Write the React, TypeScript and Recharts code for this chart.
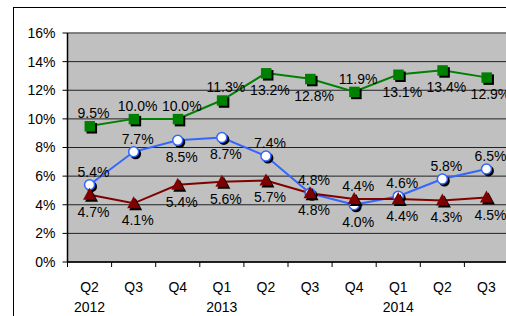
import React from 'react'
import {
  LineChart, Line, XAxis, YAxis, CartesianGrid, LabelList, ReferenceLine,
} from 'recharts'

// quarters and the year under the first quarter of each year
const quarters = ['Q2', 'Q3', 'Q4', 'Q1', 'Q2', 'Q3', 'Q4', 'Q1', 'Q2', 'Q3']
const years = ['2012', '', '', '2013', '', '', '', '2014', '', '']

const greenValues = [9.5, 10.0, 10.0, 11.3, 13.2, 12.8, 11.9, 13.1, 13.4, 12.9]
const blueValues = [5.4, 7.7, 8.5, 8.7, 7.4, 4.8, 4.0, 4.6, 5.8, 6.5]
const redValues = [4.7, 4.1, 5.4, 5.6, 5.7, 4.8, 4.4, 4.4, 4.3, 4.5]

const yTicks = [0, 2, 4, 6, 8, 10, 12, 14, 16]

// label placement (true = below the marker)
const greenBelow = [false, false, false, false, true, true, false, true, true, true]
const blueBelow = [false, false, true, true, false, false, true, false, false, false]
const redBelow = [true, true, true, true, true, true, false, true, true, true]

const data = quarters.map((q, i) => ({
  key: `${q}-${i}`,
  quarter: q,
  year: years[i],
  green: greenValues[i],
  blue: blueValues[i],
  red: redValues[i],
}))

const FONT = '"Liberation Sans", Arial, sans-serif'
const CHART_W = 520
const MARGIN = { top: 33, right: 11.5, left: 0, bottom: 0 }
const Y_W = 67.5
const BAND = (CHART_W - MARGIN.right - MARGIN.left - Y_W) / quarters.length

const GREEN = '#008000'
const BLUE = '#3366ff'
const RED = '#800000'

const SquareDot = (props: any) => {
  const { cx, cy } = props
  if (cx == null || cy == null) return null
  return (
    <g>
      <rect x={cx - 5 + 2} y={cy - 5 + 2} width={10.5} height={10.5} fill="#000" />
      <rect x={cx - 5} y={cy - 5} width={10.5} height={10.5} fill={GREEN} />
    </g>
  )
}

const CircleDot = (props: any) => {
  const { cx, cy } = props
  if (cx == null || cy == null) return null
  return (
    <g>
      <circle cx={cx + 2} cy={cy + 2} r={5.5} fill="#000" />
      <circle cx={cx} cy={cy} r={5} fill="#fff" stroke={BLUE} strokeWidth={1.5} />
    </g>
  )
}

const TriangleDot = (props: any) => {
  const { cx, cy } = props
  if (cx == null || cy == null) return null
  const tri = (dx: number, dy: number) =>
    `${cx + dx},${cy - 7 + dy} ${cx + 6.5 + dx},${cy + 5 + dy} ${cx - 6.5 + dx},${cy + 5 + dy}`
  return (
    <g>
      <polygon points={tri(2, 2)} fill="#000" />
      <polygon points={tri(0, 0)} fill={RED} />
    </g>
  )
}

const makeLabel = (below: boolean[]) => (props: any) => {
  const { x, y, value, index } = props
  const dy = below[index] ? 22 : -8
  return (
    <text x={x + 4} y={y + dy} textAnchor="middle" fontSize={14} fontFamily={FONT} fill="#000">
      {`${Number(value).toFixed(1)}%`}
    </text>
  )
}

const QuarterTick = (props: any) => {
  const { x, y, payload, index } = props
  const row = data[index] || { quarter: payload.value, year: '' }
  return (
    <g>
      <line x1={x + BAND / 2} y1={y} x2={x + BAND / 2} y2={y + 5} stroke="#000" />
      {index === 0 && <line x1={x - BAND / 2} y1={y} x2={x - BAND / 2} y2={y + 5} stroke="#000" />}
      <text x={x} y={y + 30} textAnchor="middle" fontSize={14} fontFamily={FONT} fill="#000">
        {row.quarter}
      </text>
      {row.year && (
        <text x={x} y={y + 50} textAnchor="middle" fontSize={14} fontFamily={FONT} fill="#000">
          {row.year}
        </text>
      )}
    </g>
  )
}

export default function App() {
  return (
    <div style={{ position: 'absolute', left: 0, top: 0, width: 506, height: 316, overflow: 'hidden', background: '#fff' }}>
      {/* outer chart border, cut off at right and bottom */}
      <div style={{ position: 'absolute', left: 13, top: 7, width: 600, height: 400, borderLeft: '1.5px solid #000', borderTop: '1.5px solid #000' }} />
      <div style={{ position: 'absolute', left: 0, top: 0 }}>
        <LineChart width={CHART_W} height={316} data={data} margin={MARGIN}>
          <CartesianGrid vertical={false} fill="#c0c0c0" stroke="#222" strokeWidth={1} />
          <ReferenceLine y={16} stroke="#808080" strokeWidth={1.5} />
          <XAxis
            dataKey="key"
            scale="band"
            height={54}
            axisLine={{ stroke: '#000', strokeWidth: 1.5 }}
            tickLine={false}
            tickSize={0}
            tickMargin={0}
            interval={0}
            tick={<QuarterTick />}
          />
          <YAxis
            width={Y_W}
            domain={[0, 16]}
            ticks={yTicks}
            interval={0}
            tickFormatter={(v: number) => `${v}%`}
            tick={{ fontSize: 14, fontFamily: FONT, fill: '#000' }}
            tickSize={5}
            tickMargin={7}
            axisLine={{ stroke: '#000', strokeWidth: 1.5 }}
            tickLine={{ stroke: '#000' }}
          />
          <Line dataKey="green" stroke={GREEN} strokeWidth={2} dot={<SquareDot />} activeDot={false} isAnimationActive={false}>
            <LabelList dataKey="green" content={makeLabel(greenBelow)} />
          </Line>
          <Line dataKey="blue" stroke={BLUE} strokeWidth={2} dot={<CircleDot />} activeDot={false} isAnimationActive={false}>
            <LabelList dataKey="blue" content={makeLabel(blueBelow)} />
          </Line>
          <Line dataKey="red" stroke={RED} strokeWidth={2} dot={<TriangleDot />} activeDot={false} isAnimationActive={false}>
            <LabelList dataKey="red" content={makeLabel(redBelow)} />
          </Line>
        </LineChart>
      </div>
    </div>
  )
}
